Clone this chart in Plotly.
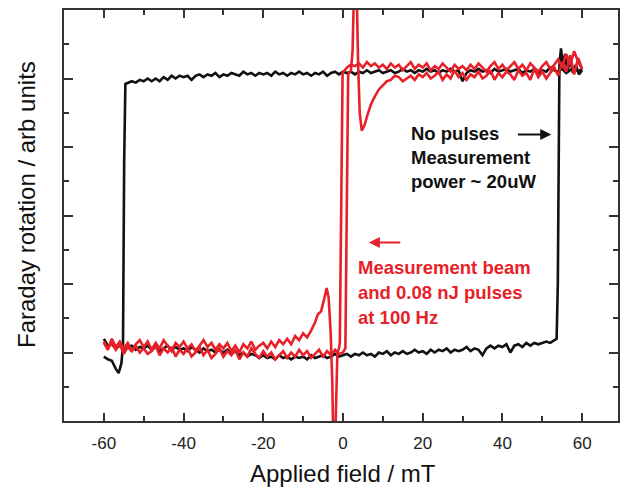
import plotly.graph_objects as go

# ---- Faraday rotation hysteresis loops (field in mT, rotation in arb. units) ----

# Loop without pump pulses: sweep down (from +60 mT)
black_down_x = [
    60, 59, 58, 57, 56, 55, 54, 53, 52, 51,
    50, 49, 48, 47, 46, 45, 44, 43, 42, 41,
    40, 39, 38, 37, 36, 35, 34, 33, 32, 31,
    30, 29, 28, 27, 26, 25, 24, 23, 22, 21,
    20, 19, 18, 17, 16, 15, 14, 13, 12, 11,
    10, 9, 8, 7, 6, 5, 4, 3, 2, 1,
    0, -1, -2, -3, -4, -5, -6, -7, -8, -9,
    -10, -11, -12, -13, -14, -15, -16, -17, -18, -19,
    -20, -21, -22, -23, -24, -25, -26, -27, -28, -29,
    -30, -31, -32, -33, -34, -35, -36, -37, -38, -39,
    -40, -41, -42, -43, -44, -45, -46, -47, -48, -49,
    -50, -51, -52, -53, -54,
    -54.6, -54.9, -55.2, -55.6, -56.3, -57, -58, -59, -60,
]
black_down_y = [
    1.07, 1.05, 1.08, 1.06, 1.04, 1.07, 1.05, 1.06, 1.08, 1.05,
    1.06, 1.04, 1.07, 1.05, 1.06, 1.04, 1.07, 1.06, 1.05, 1.07,
    1.06, 1.05, 1.07, 1.04, 1.06, 1.05, 1.07, 1.05, 1.06, 1.04,
    0.98, 1.06, 1.05, 1.07, 1.05, 1.06, 1.04, 1.06, 1.05, 1.07,
    1.05, 1.06, 1.04, 1.06, 1.05, 1.07, 1.05, 1.04, 1.06, 1.05,
    1.04, 1.06, 1.05, 1.04, 1.06, 1.04, 1.05, 1.03, 1.05, 1.04,
    1.05, 1.03, 1.05, 1.04, 1.02, 1.05, 1.03, 1.04, 1.02, 1.04,
    1.03, 1.05, 1.03, 1.04, 1.02, 1.04, 1.03, 1.05, 1.02, 1.04,
    1.03, 1.04, 1.02, 1.04, 1.03, 1.05, 1.02, 1.03, 1.04, 1.02,
    1.03, 1.01, 1.04, 1.02, 1.03, 1.01, 1.03, 1.02, 0.99, 1.02,
    1.01, 1.02, 1.00, 1.02, 0.99, 1.01, 0.98, 1.00, 0.98, 1.00,
    0.98, 0.99, 0.97, 0.98, 0.97,
    0.96, 0.40, -0.95, -1.08, -1.15, -1.12, -1.06, -1.05, -1.03,
]

# Loop without pump pulses: sweep up (from -60 mT)
black_up_x = [
    -60, -59, -58, -57, -56, -55, -54, -53, -52, -51,
    -50, -49, -48, -47, -46, -45, -44, -43, -42, -41,
    -40, -39, -38, -37, -36, -35, -34, -33, -32, -31,
    -30, -29, -28, -27, -26, -25, -24, -23, -22, -21,
    -20, -19, -18, -17, -16, -15, -14, -13, -12, -11,
    -10, -9, -8, -7, -6, -5, -4, -3, -2, -1,
    0, 1, 2, 3, 4, 5, 6, 7, 8, 9,
    10, 11, 12, 13, 14, 15, 16, 17, 18, 19,
    20, 21, 22, 23, 24, 25, 26, 27, 28, 29,
    30, 31, 32, 33, 34, 35, 36, 37, 38, 39,
    40, 41, 42, 43, 44, 45, 46, 47, 48, 49,
    50, 51, 52, 53,
    53.6, 53.9, 54.1, 54.3, 54.7, 55.2, 55.7, 56.3, 57.0, 57.7, 58.4, 59.2, 60,
]
black_up_y = [
    -0.90, -0.95, -0.94, -0.97, -0.95, -0.98, -0.96, -0.95, -0.98, -0.96,
    -0.97, -0.95, -0.98, -0.96, -0.99, -0.97, -0.95, -0.98, -0.96, -0.98,
    -0.97, -0.99, -0.96, -0.98, -1.00, -0.97, -0.99, -0.98, -1.00, -0.98,
    -1.00, -0.98, -1.01, -0.99, -1.02, -1.00, -1.03, -1.01, -1.02, -1.04,
    -1.02, -1.04, -1.03, -1.05, -1.02, -1.04, -1.03, -1.05, -1.03, -1.04,
    -1.03, -1.05, -1.02, -1.04, -1.03, -1.02, -1.04, -1.03, -1.01, -1.03,
    -1.02, -1.01, -1.03, -1.01, -1.02, -1.00, -1.02, -1.01, -1.03, -1.00,
    -1.01, -0.99, -1.02, -1.00, -1.01, -0.99, -1.01, -1.00, -0.98, -1.00,
    -0.99, -1.01, -0.98, -1.00, -0.98, -0.99, -0.97, -1.00, -0.98, -0.99,
    -0.98, -0.96, -0.99, -0.97, -0.98, -1.02, -0.97, -0.95, -0.97, -0.95,
    -0.96, -0.94, -1.00, -0.95, -0.94, -0.96, -0.93, -0.95, -0.93, -0.94,
    -0.93, -0.92, -0.93, -0.91,
    -0.90, -0.50, 0.90, 1.10, 1.22, 1.08, 1.18, 1.05, 1.14, 1.04, 1.10, 1.03, 1.06,
]

# Loop with 0.08 nJ pulses at 100 Hz: sweep up (from -60 mT)
red_up_x = [
    -60, -59, -58, -57, -56, -55, -54, -53, -52, -51,
    -50, -49, -48, -47, -46, -45, -44, -43, -42, -41,
    -40, -39, -38, -37, -36, -35, -34, -33, -32, -31,
    -30, -29, -28, -27, -26, -25, -24, -23, -22, -21,
    -20, -19, -18, -17, -16, -15, -14, -13, -12, -11,
    -10, -9, -8,
    -7, -6.3, -5.5, -4.8, -4.1, -3.6, -3.1, -2.7, -2.4, -2.0, -1.7, -1.4, -1.0, -0.8, -0.1,
    1, 2, 3, 4, 5, 6, 7, 8, 9, 10,
    11, 12, 13, 14, 15, 16, 17, 18, 19, 20,
    21, 22, 23, 24, 25, 26, 27, 28, 29, 30,
    31, 32, 33, 34, 35, 36, 37, 38, 39, 40,
    41, 42, 43, 44, 45, 46, 47, 48, 49, 50,
    51, 52, 53, 54, 55, 56, 57, 58, 59, 60,
]
red_up_y = [
    -0.93, -0.98, -0.90, -0.96, -0.92, -0.97, -0.93, -0.99, -0.94, -0.91,
    -0.96, -0.92, -0.98, -0.93, -0.97, -0.91, -0.95, -0.99, -0.93, -0.96,
    -0.92, -0.97, -0.94, -0.99, -0.95, -0.91, -0.96, -0.93, -0.98, -0.94,
    -0.97, -0.93, -0.99, -0.95, -1.00, -0.94, -0.97, -0.92, -0.98, -0.95,
    -0.93, -0.97, -0.92, -0.96, -0.91, -0.94, -0.90, -0.94, -0.88, -0.91,
    -0.86, -0.89, -0.84,
    -0.78, -0.72, -0.70, -0.62, -0.53, -0.60, -0.85, -1.20, -1.70, -1.70, -1.25, -1.00, -0.97, -0.93, 1.04,
    1.08, 1.10, 1.09, 1.11, 1.08, 1.12, 1.09, 1.11, 1.08, 1.10,
    1.07, 1.11, 1.08, 1.10, 1.06, 1.09, 1.12, 1.07, 1.10, 1.08,
    1.11, 1.06, 1.09, 1.07, 1.11, 1.08, 1.05, 1.10, 1.07, 1.09,
    1.06, 1.10, 1.07, 1.11, 1.08, 1.05, 1.09, 1.12, 1.07, 1.10,
    1.06, 1.09, 1.12, 1.07, 1.10, 1.06, 1.11, 1.08, 1.05, 1.09,
    1.12, 1.07, 1.10, 1.14, 1.08, 1.18, 1.10, 1.20, 1.12, 1.07,
]

# Loop with 0.08 nJ pulses at 100 Hz: sweep down (from +60 mT)
red_down_x = [
    60, 59, 58, 57, 56, 55, 54, 53, 52, 51,
    50, 49, 48, 47, 46, 45, 44, 43, 42, 41,
    40, 39, 38, 37, 36, 35, 34, 33, 32, 31,
    30, 29, 28, 27, 26, 25, 24, 23, 22, 21,
    20, 19, 18, 17, 16, 15, 14, 13, 12, 11,
    10, 9, 8, 7,
    6.2, 5.4, 4.7, 4.2, 3.8, 3.4, 2.8, 2.4, 2.0, 1.6, 1.3, 0.6, 0,
    -1, -2, -3, -4, -5, -6, -7, -8, -9, -10,
    -11, -12, -13, -14, -15, -16, -17, -18, -19, -20,
    -21, -22, -23, -24, -25, -26, -27, -28, -29, -30,
    -31, -32, -33, -34, -35, -36, -37, -38, -39, -40,
    -41, -42, -43, -44, -45, -46, -47, -48, -49, -50,
    -51, -52, -53, -54, -55, -56, -57, -58, -59, -60,
]
red_down_y = [
    1.07, 1.15, 1.03, 1.17, 1.05, 1.12, 1.02, 1.08, 1.04, 1.00,
    1.05, 1.01, 1.07, 0.99, 1.04, 1.02, 1.06, 0.99, 1.03, 1.05,
    1.01, 1.04, 0.99, 1.06, 1.02, 1.00, 1.05, 1.01, 1.03, 0.99,
    1.04, 1.01, 1.06, 1.00, 1.03, 0.99, 1.05, 1.02, 1.00, 1.04,
    1.01, 1.03, 0.99, 1.02, 1.00, 0.98, 1.01, 1.02, 0.99, 0.98,
    0.95, 0.92, 0.87, 0.81,
    0.74, 0.66, 0.62, 0.75, 1.10, 1.70, 1.70, 1.20, 1.06, 1.04, 1.03, -0.97, -1.00,
    -1.01, -0.98, -1.02, -0.99, -1.03, -0.98, -1.01, -1.04, -0.99, -1.02,
    -0.98, -1.03, -1.00, -1.04, -0.99, -1.02, -1.05, -1.00, -1.03, -0.99,
    -1.04, -1.01, -0.97, -1.03, -1.00, -1.05, -0.98, -1.02, -0.99, -1.03,
    -0.97, -1.01, -1.04, -0.98, -1.02, -0.96, -1.00, -1.03, -0.97, -1.01,
    -0.98, -1.03, -0.96, -1.00, -0.97, -1.02, -0.95, -0.99, -1.01, -0.97,
    -1.00, -0.95, -0.99, -0.96, -1.01, -0.94, -0.98, -0.93, -0.97, -0.92,
]

x_tick_vals = [-60, -40, -20, 0, 20, 40, 60]
x_tick_text = ["-60", "-40", "-20", "0", "20", "40", "60"]
y_tick_vals = [-1.0, -0.5, 0.0, 0.5, 1.0]

black_note = ["No pulses", "Measurement", "power ~ 20uW"]
red_note = ["Measurement beam", "and 0.08 nJ pulses", "at 100 Hz"]

BLACK = "#111111"
RED = "#e62129"
AXIS = "#333333"
FONT = "Liberation Sans, Arial, Helvetica, sans-serif"

fig = go.Figure()
for xs, ys, col in [
    (black_down_x, black_down_y, BLACK),
    (black_up_x, black_up_y, BLACK),
    (red_up_x, red_up_y, RED),
    (red_down_x, red_down_y, RED),
]:
    fig.add_trace(go.Scatter(x=xs, y=ys, mode="lines",
                             line=dict(color=col, width=2.6),
                             hoverinfo="skip"))

axis_common = dict(
    showgrid=False, zeroline=False, showline=True, linecolor=AXIS,
    linewidth=1.5, mirror="ticks", ticks="inside", tickcolor=AXIS,
    tickwidth=1.5,
)
fig.update_xaxes(
    range=[-70, 69], tickvals=x_tick_vals, ticktext=x_tick_text, ticklen=8,
    tickfont=dict(family=FONT, size=17, color="#222222"),
    ticklabelstandoff=6,
    minor=dict(dtick=10, tick0=0, ticks="inside", ticklen=5, tickwidth=1.5,
               tickcolor=AXIS),
    **axis_common,
)
fig.update_yaxes(
    range=[-1.5, 1.5], tickvals=y_tick_vals, showticklabels=False, ticklen=9,
    minor=dict(dtick=0.25, tick0=0, ticks="inside", ticklen=5, tickwidth=1.5,
               tickcolor=AXIS),
    **axis_common,
)

# Axis titles
fig.add_annotation(text="Applied field / mT", xref="x", yref="paper", x=0, y=0,
                   yshift=-52, showarrow=False, xanchor="center", yanchor="middle",
                   font=dict(family=FONT, size=24, color="#111111"))
fig.add_annotation(text="Faraday rotation / arb units", xref="paper", yref="paper",
                   x=0, y=0.5255, xshift=-38, textangle=-90, showarrow=False,
                   xanchor="center", yanchor="middle",
                   font=dict(family=FONT, size=24, color="#111111"))

# Curve notes
for line, yv in zip(black_note, [0.602, 0.423, 0.245]):
    fig.add_annotation(text="<b>%s</b>" % line, x=16.5, y=yv, xref="x", yref="y",
                       showarrow=False, xanchor="left", yanchor="middle",
                       font=dict(family=FONT, size=18.5, color=BLACK))
for line, yv in zip(red_note, [-0.380, -0.562, -0.745]):
    fig.add_annotation(text="<b>%s</b>" % line, x=3.2, y=yv, xref="x", yref="y",
                       showarrow=False, xanchor="left", yanchor="middle",
                       font=dict(family=FONT, size=18.5, color=RED))

# Sweep-direction arrows
fig.add_annotation(x=52.25, y=0.591, ax=43.5, ay=0.591, xref="x", yref="y",
                   axref="x", ayref="y", text="", showarrow=True, arrowhead=2,
                   arrowsize=1.1, arrowwidth=2, arrowcolor=BLACK)
fig.add_annotation(x=6.5, y=-0.197, ax=14.75, ay=-0.197, xref="x", yref="y",
                   axref="x", ayref="y", text="", showarrow=True, arrowhead=2,
                   arrowsize=1.1, arrowwidth=2, arrowcolor=RED)

fig.update_layout(
    width=620, height=489,
    margin=dict(l=64, r=0, t=10, b=68, pad=0),
    plot_bgcolor="white", paper_bgcolor="white",
    showlegend=False,
)

fig.write_html("out.html")
